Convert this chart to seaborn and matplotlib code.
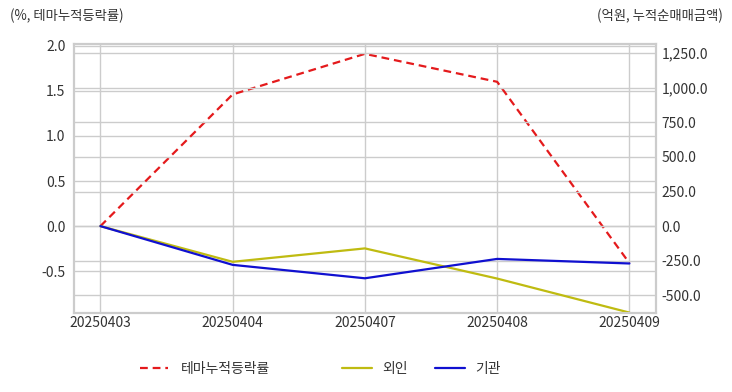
import pandas as pd
import seaborn as sns
import matplotlib.pyplot as plt
from matplotlib.ticker import FuncFormatter

#%% data
dates = ["20250403", "20250404", "20250407", "20250408", "20250409"]
theme_rate = [0.0, 1.46, 1.91, 1.60, -0.41]
foreign_net = [0.0, -258.0, -161.0, -379.0, -625.0]
inst_net = [0.0, -280.0, -377.0, -237.0, -270.0]

df = pd.DataFrame({"date": dates, "theme": theme_rate,
                   "foreign": foreign_net, "inst": inst_net})
df["x"] = range(len(dates))

#%% style
sns.set_theme(style="white")
plt.rcParams['font.family'] = ['Noto Sans CJK KR', 'DejaVu Sans']
plt.rcParams['axes.unicode_minus'] = False

grid_c = "#cccccc"
text_c = "#333333"

fig = plt.figure(figsize=(7.32, 3.92), dpi=100)
ax = fig.add_axes([0.101, 0.2015, 0.795, 0.6865])
ax2 = ax.twinx()

#%% lines
sns.lineplot(data=df, x="x", y="theme", ax=ax, color="#e41a1c",
             linewidth=1.6, linestyle=(0, (3.5, 2.2)), label="테마누적등락률", legend=False)
sns.lineplot(data=df, x="x", y="foreign", ax=ax2, color="#bfbb11",
             linewidth=1.6, label="외인", legend=False)
sns.lineplot(data=df, x="x", y="inst", ax=ax2, color="#1010d0",
             linewidth=1.6, label="기관", legend=False)

#%% axes
ax.set_xlim(-0.2, 4.2)
ax.set_ylim(-0.963, 2.02)
ax2.set_ylim(-628, 1317)
ax.set_yticks([-0.5, 0.0, 0.5, 1.0, 1.5, 2.0])
ax2.set_yticks([-500, -250, 0, 250, 500, 750, 1000, 1250])
ax.set_xticks(df["x"])
ax.set_xticklabels(dates)
ax2.yaxis.set_major_formatter(FuncFormatter(lambda v, p: f"{v:,.1f}"))
ax.yaxis.set_major_formatter(FuncFormatter(lambda v, p: f"{v:.1f}"))

ax.set_xlabel("")
ax.set_ylabel("")
ax2.set_ylabel("")

for a in (ax, ax2):
    a.tick_params(length=0, labelsize=10, labelcolor=text_c)
    for s in a.spines.values():
        s.set_color(grid_c)
        s.set_linewidth(1.5)
ax.tick_params(axis="y", pad=6)
ax.tick_params(axis="x", pad=2)
ax2.tick_params(axis="y", pad=4)

ax.grid(True, color=grid_c, linewidth=1)
ax2.grid(True, axis="y", color=grid_c, linewidth=1)
ax.set_axisbelow(True)
ax2.set_axisbelow(True)

fig.text(0.013, 0.96, "(%, 테마누적등락률)", fontsize=9.6, color=text_c, va="center")
fig.text(0.987, 0.96, "(억원, 누적순매매금액)", fontsize=9.6, color=text_c,
         va="center", ha="right")

#%% legend (two groups, like the original spacing)
h1, l1 = ax.get_legend_handles_labels()
h2, l2 = ax2.get_legend_handles_labels()
leg1 = fig.legend(h1, l1, loc="center left", bbox_to_anchor=(0.191, 0.058),
                  frameon=False, fontsize=10, handlelength=2.0,
                  handletextpad=0.95, borderpad=0, borderaxespad=0,
                  labelcolor=text_c)
fig.legend(h2, l2, loc="center left", bbox_to_anchor=(0.467, 0.058),
           ncol=2, frameon=False, fontsize=10, handlelength=2.15,
           handletextpad=0.75, columnspacing=2.0, borderpad=0,
           borderaxespad=0, labelcolor=text_c)

fig.savefig("out.png", dpi=100)
